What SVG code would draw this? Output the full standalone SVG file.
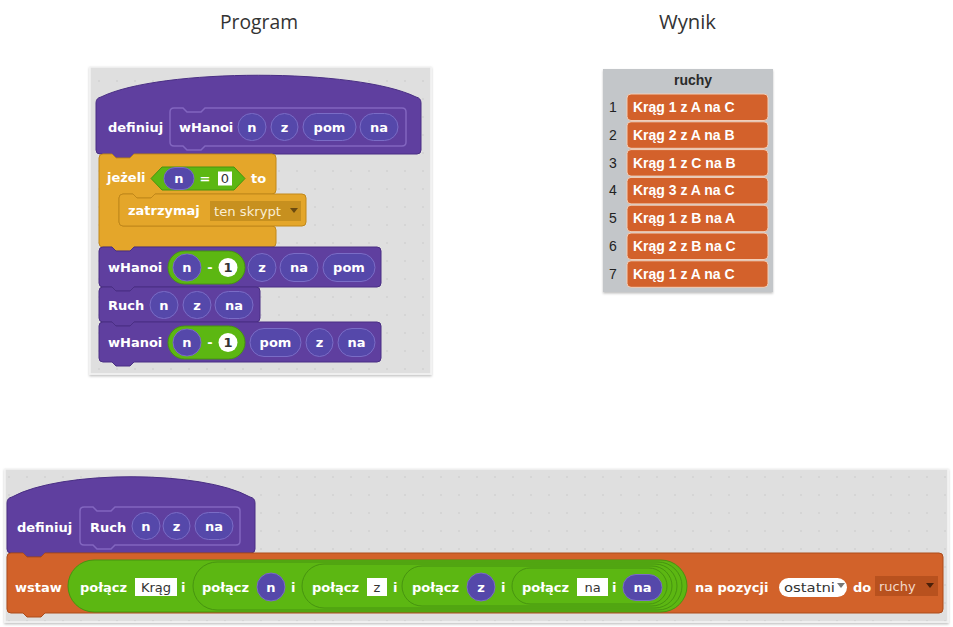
<svg xmlns="http://www.w3.org/2000/svg" width="953" height="627" viewBox="0 0 953 627">
<defs>
<pattern id="dots" width="18" height="18" patternUnits="userSpaceOnUse">
<rect width="18" height="18" fill="#dfdfdf"/>
<circle cx="9" cy="9" r="0.8" fill="#c9c9c9"/>
</pattern>
<filter id="sh" x="-5%" y="-5%" width="110%" height="115%">
<feDropShadow dx="0" dy="1.5" stdDeviation="1" flood-color="#000" flood-opacity="0.25"/>
</filter>
</defs>
<style>
.t{font-family:"DejaVu Sans",Verdana,sans-serif;font-weight:bold;font-size:13px;fill:#fff}
.r{font-family:"DejaVu Sans",Verdana,sans-serif;font-size:13px}
.c{text-anchor:middle}
.pur{fill:#5f3f9f;stroke:#4a2f84;stroke-width:1}
.proto{fill:none;stroke:#8266c0;stroke-width:1.5}
.par{fill:#5548aa;stroke:#7a6cc6;stroke-width:1}
.yel{fill:#e4a62a;stroke:#c1881a;stroke-width:1}
.grn{fill:#5cb712;stroke:#479410;stroke-width:1}
.org{fill:#d2622a;stroke:#ad4c1b;stroke-width:1}
.box{fill:#fff}
.dark{fill:#333}
.item{fill:#d3612b;stroke:#f3cfb8;stroke-width:1}
.itxt{font-family:"Liberation Sans",Arial,sans-serif;font-weight:bold;font-size:14px;fill:#fff}
.num{font-family:"Liberation Sans",Arial,sans-serif;font-size:14px;fill:#222;text-anchor:middle}
.title{font-family:"Open Sans","DejaVu Sans",sans-serif;font-size:20px;fill:#333}
</style>

<text class="title" x="220" y="29" textLength="78" lengthAdjust="spacingAndGlyphs">Program</text>
<text class="title" x="659" y="29" textLength="57" lengthAdjust="spacingAndGlyphs">Wynik</text>

<!-- top program panel -->
<g id="program">
<rect x="90" y="67" width="341" height="307" fill="url(#dots)" stroke="#f4f4f4" stroke-width="1.5" filter="url(#sh)"/>

<g id="hat-wHanoi">
<path class="pur" d="M96,103 Q96,98 101,97 C160,68 357,68 416,97 Q421,98 421,103 L421,150 Q421,154 417,154 L134,154 L130,158 L116,158 L112,154 L100,154 Q96,154 96,150 Z"/>
<path class="proto" d="M170,112 Q170,108 174,108 L183,108 L187,112 L201,112 L205,108 L402,108 Q406,108 406,112 L406,142 Q406,146 402,146 L205,146 L201,150 L187,150 L183,146 L174,146 Q170,146 170,142 Z"/>
<text class="t" x="108" y="132">definiuj</text>
<text class="t" x="179" y="131.5">wHanoi</text>
<rect class="par" x="238" y="113.5" width="28" height="27" rx="13.5"/>
<text class="t c" x="252" y="131.5">n</text>
<rect class="par" x="271" y="113.5" width="27" height="27" rx="13.5"/>
<text class="t c" x="284.5" y="131.5">z</text>
<rect class="par" x="303" y="113.5" width="53" height="27" rx="13.5"/>
<text class="t c" x="329.5" y="131.5">pom</text>
<rect class="par" x="360" y="113.5" width="38" height="27" rx="13.5"/>
<text class="t c" x="379" y="131.5">na</text>
</g>

<g id="if-block">
<path class="yel" d="M99,158 Q99,154 103,154 L112,154 L116,158 L130,158 L134,154 L272,154 Q276,154 276,158 L276,190 Q276,194 272,194 L155,194 L151,198 L137,198 L133,194 L123,194 Q119,194 119,198 L119,222 Q119,226 123,226 L272,226 Q276,226 276,230 L276,243 Q276,247 272,247 L134,247 L130,251 L116,251 L112,247 L103,247 Q99,247 99,243 Z"/>
<text class="t" x="107" y="182">jeżeli</text>
<polygon class="grn" points="151,178.5 162,167 234,167 245,178.5 234,190 162,190"/>
<rect class="par" x="164" y="167.5" width="30" height="22" rx="11"/>
<text class="t c" x="179" y="183">n</text>
<text class="t c" x="205" y="183">=</text>
<rect class="box" x="218" y="171.5" width="14" height="14"/>
<text class="r c dark" x="225" y="183">0</text>
<text class="t" x="251" y="183">to</text>
</g>

<g id="stop-block">
<path class="yel" d="M119,198 Q119,194 123,194 L133,194 L137,198 L151,198 L155,194 L302,194 Q306,194 306,198 L306,222 Q306,226 302,226 L123,226 Q119,226 119,222 Z"/>
<text class="t" x="128" y="215">zatrzymaj</text>
<rect x="210" y="201" width="91" height="20" fill="#c7901f"/>
<text class="r" x="214" y="215.5" fill="#fbeed2" textLength="67" lengthAdjust="spacingAndGlyphs">ten skrypt</text>
<polygon points="290,208 298,208 294,213" fill="#6b4a10"/>
</g>

<g id="call-wHanoi-1">
<path class="pur" d="M99,251 Q99,247 103,247 L112,247 L116,251 L130,251 L134,247 L377,247 Q381,247 381,251 L381,283 Q381,287 377,287 L134,287 L130,291 L116,291 L112,287 L103,287 Q99,287 99,283 Z"/>
<text class="t" x="108" y="271.5">wHanoi</text>
<rect class="grn" x="168" y="251" width="77" height="33" rx="16.5"/>
<rect class="par" x="173" y="254" width="28" height="27" rx="13.5"/>
<text class="t c" x="187" y="272">n</text>
<text class="t c" x="210" y="272">-</text>
<circle cx="228" cy="267.5" r="9.5" fill="#fff"/>
<text class="t c" x="228" y="272" fill="#333" style="fill:#333">1</text>
<rect class="par" x="248" y="253.5" width="28" height="28" rx="14"/>
<text class="t c" x="262" y="272">z</text>
<rect class="par" x="280" y="253.5" width="38" height="28" rx="14"/>
<text class="t c" x="299" y="272">na</text>
<rect class="par" x="323" y="253.5" width="52" height="28" rx="14"/>
<text class="t c" x="349" y="272">pom</text>
</g>

<g id="call-Ruch">
<path class="pur" d="M99,291 Q99,287 103,287 L112,287 L116,291 L130,291 L134,287 L256,287 Q260,287 260,291 L260,318 Q260,322 256,322 L134,322 L130,326 L116,326 L112,322 L103,322 Q99,322 99,318 Z"/>
<text class="t" x="108" y="309.5">Ruch</text>
<rect class="par" x="150" y="291.5" width="28" height="27" rx="13.5"/>
<text class="t c" x="164" y="309.5">n</text>
<rect class="par" x="183" y="291.5" width="28" height="27" rx="13.5"/>
<text class="t c" x="197" y="309.5">z</text>
<rect class="par" x="215" y="291.5" width="38" height="27" rx="13.5"/>
<text class="t c" x="234" y="309.5">na</text>
</g>

<g id="call-wHanoi-2">
<path class="pur" d="M99,326 Q99,322 103,322 L112,322 L116,326 L130,326 L134,322 L377,322 Q381,322 381,326 L381,358 Q381,362 377,362 L134,362 L130,366 L116,366 L112,362 L103,362 Q99,362 99,358 Z"/>
<text class="t" x="108" y="346.5">wHanoi</text>
<rect class="grn" x="168" y="326" width="77" height="33" rx="16.5"/>
<rect class="par" x="173" y="329" width="28" height="27" rx="13.5"/>
<text class="t c" x="187" y="347">n</text>
<text class="t c" x="210" y="347">-</text>
<circle cx="228" cy="342.5" r="9.5" fill="#fff"/>
<text class="t c" x="228" y="347" style="fill:#333">1</text>
<rect class="par" x="250" y="328.5" width="51" height="28" rx="14"/>
<text class="t c" x="275.5" y="347">pom</text>
<rect class="par" x="306" y="328.5" width="27" height="28" rx="14"/>
<text class="t c" x="319.5" y="347">z</text>
<rect class="par" x="338" y="328.5" width="37" height="28" rx="14"/>
<text class="t c" x="356.5" y="347">na</text>
</g>
</g>

<!-- list monitor -->
<g id="list-ruchy">
<rect x="603" y="69" width="170" height="223" fill="#c3c6c9" filter="url(#sh)"/>
<text x="693" y="85" text-anchor="middle" style="font-family:'Liberation Sans',Arial,sans-serif;font-weight:bold;font-size:14px;fill:#2a2a2a">ruchy</text>
<g id="item-1"><text class="num" x="613" y="112">1</text><rect class="item" x="627" y="94" width="141" height="26.5" rx="4"/><text class="itxt" x="633" y="112">Krąg 1 z A na C</text></g>
<g id="item-2"><text class="num" x="613" y="139.8">2</text><rect class="item" x="627" y="121.8" width="141" height="26.5" rx="4"/><text class="itxt" x="633" y="139.8">Krąg 2 z A na B</text></g>
<g id="item-3"><text class="num" x="613" y="167.6">3</text><rect class="item" x="627" y="149.6" width="141" height="26.5" rx="4"/><text class="itxt" x="633" y="167.6">Krąg 1 z C na B</text></g>
<g id="item-4"><text class="num" x="613" y="195.4">4</text><rect class="item" x="627" y="177.4" width="141" height="26.5" rx="4"/><text class="itxt" x="633" y="195.4">Krąg 3 z A na C</text></g>
<g id="item-5"><text class="num" x="613" y="223.2">5</text><rect class="item" x="627" y="205.2" width="141" height="26.5" rx="4"/><text class="itxt" x="633" y="223.2">Krąg 1 z B na A</text></g>
<g id="item-6"><text class="num" x="613" y="251">6</text><rect class="item" x="627" y="233" width="141" height="26.5" rx="4"/><text class="itxt" x="633" y="251">Krąg 2 z B na C</text></g>
<g id="item-7"><text class="num" x="613" y="278.8">7</text><rect class="item" x="627" y="260.8" width="141" height="26.5" rx="4"/><text class="itxt" x="633" y="278.8">Krąg 1 z A na C</text></g>
</g>

<!-- bottom panel -->
<g id="ruch-definition">
<rect x="5" y="469" width="943" height="153" fill="url(#dots)" stroke="#f4f4f4" stroke-width="1.5" filter="url(#sh)"/>

<g id="hat-Ruch">
<path class="pur" d="M7,503 Q7,498 12,497 C60,470 202,470 250,497 Q255,498 255,503 L255,549 Q255,553 251,553 L45,553 L41,557 L27,557 L23,553 L11,553 Q7,553 7,549 Z"/>
<path class="proto" d="M80,511 Q80,507 84,507 L93,507 L97,511 L111,511 L115,507 L236,507 Q240,507 240,511 L240,541 Q240,545 236,545 L115,545 L111,549 L97,549 L93,545 L84,545 Q80,545 80,541 Z"/>
<text class="t" x="17" y="532">definiuj</text>
<text class="t" x="90" y="531.5">Ruch</text>
<rect class="par" x="132" y="512.5" width="28" height="27" rx="13.5"/>
<text class="t c" x="146" y="531">n</text>
<rect class="par" x="163" y="512.5" width="27" height="27" rx="13.5"/>
<text class="t c" x="176.5" y="531">z</text>
<rect class="par" x="195" y="512.5" width="38" height="27" rx="13.5"/>
<text class="t c" x="214" y="531">na</text>
</g>

<g id="insert-block">
<path class="org" d="M7,557 Q7,553 11,553 L23,553 L27,557 L41,557 L45,553 L939,553 Q943,553 943,557 L943,609 Q943,613 939,613 L45,613 L41,617 L27,617 L23,613 L11,613 Q7,613 7,609 Z"/>
<text class="t" x="15" y="591.5">wstaw</text>
<rect class="grn" x="68" y="560" width="619" height="52" rx="26"/>
<rect class="grn" x="193" y="562" width="489" height="48" rx="24"/>
<rect class="grn" x="302" y="564" width="375" height="44" rx="22"/>
<rect class="grn" x="402" y="566" width="270" height="40" rx="20"/>
<rect class="grn" x="512" y="568" width="155" height="36" rx="18"/>
<text class="t" x="80" y="591.5">połącz</text>
<rect class="box" x="135" y="578" width="42" height="18"/>
<text class="r c dark" x="156" y="591.5">Krąg</text>
<text class="t" x="181" y="591.5">i</text>
<text class="t" x="202" y="591.5">połącz</text>
<rect class="par" x="257" y="573" width="28" height="28" rx="14"/>
<text class="t c" x="271" y="591.5">n</text>
<text class="t" x="291" y="591.5">i</text>
<text class="t" x="312" y="591.5">połącz</text>
<rect class="box" x="367" y="578" width="20" height="18"/>
<text class="r c dark" x="377" y="591.5">z</text>
<text class="t" x="393" y="591.5">i</text>
<text class="t" x="412" y="591.5">połącz</text>
<rect class="par" x="467" y="573" width="28" height="28" rx="14"/>
<text class="t c" x="481" y="591.5">z</text>
<text class="t" x="501" y="591.5">i</text>
<text class="t" x="522" y="591.5">połącz</text>
<rect class="box" x="577" y="578" width="31" height="18"/>
<text class="r c dark" x="592.5" y="591.5">na</text>
<text class="t" x="612" y="591.5">i</text>
<rect class="par" x="623" y="574.5" width="39" height="26" rx="13"/>
<text class="t c" x="642.5" y="591.5">na</text>
<text class="t" x="695" y="591.5">na pozycji</text>
<rect class="box" x="779" y="578" width="68" height="19" rx="9.5"/>
<text class="r dark" x="784" y="592" textLength="51" lengthAdjust="spacingAndGlyphs">ostatni</text>
<polygon points="837,583 845,583 841,588" fill="#777"/>
<text class="t" x="853" y="591.5">do</text>
<rect x="875" y="576" width="63" height="20" fill="#b8511e"/>
<text class="r" x="879" y="591" fill="#f4d8c8">ruchy</text>
<polygon points="926,583 934,583 930,588" fill="#4a200a"/>
</g>
</g>
</svg>
